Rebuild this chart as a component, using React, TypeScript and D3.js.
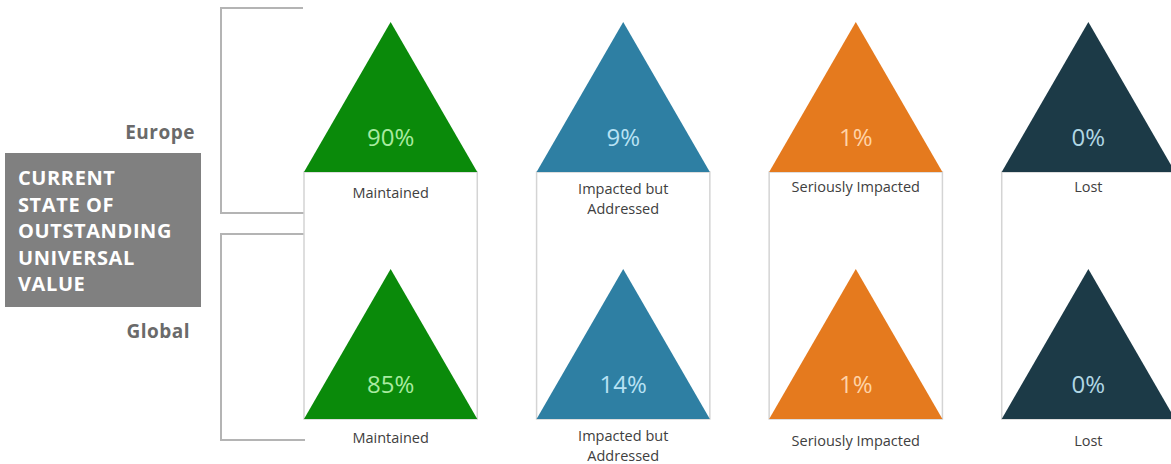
import React from 'react';
import * as d3 from 'd3';

const categories = ['Maintained', 'Impacted but Addressed', 'Seriously Impacted', 'Lost'];
const categoryLines = [['Maintained'], ['Impacted but', 'Addressed'], ['Seriously Impacted'], ['Lost']];
const regions = ['Europe', 'Global'];
const europeValues = [90, 9, 1, 0];
const globalValues = [85, 14, 1, 0];
const fillColors = ['#0a8a0a', '#2e7fa3', '#e57a1e', '#1c3a47'];
const textColors = ['#a8eaa0', '#b8e2f4', '#ffd3a6', '#b0d6e4'];
const titleLines = ['CURRENT', 'STATE OF', 'OUTSTANDING', 'UNIVERSAL', 'VALUE'];

const W = 1171;
const H = 464;
const FONT = '"Open Sans", "DejaVu Sans", sans-serif';

// label baselines, relative to triangle base: [europe, global] per category
const labelOffsets = [
  [26, 24],
  [22, 22],
  [20, 27],
  [20, 27],
];

const App: React.FC = () => {
  const x = d3.scaleBand<string>().domain(categories).range([304, 1175]).paddingInner(0.255);
  // y = baseline of each row's triangles
  const yBase = d3.scalePoint<string>().domain(regions).range([172, 419]);
  const triH = 150;
  const bw = x.bandwidth();
  const rows = [europeValues, globalValues];
  const fmt = (v: number) => `${v}%`;

  const triangle = (cx: number, base: number) =>
    d3.line()([[cx - bw / 2, base], [cx, base - triH], [cx + bw / 2, base]]) + 'Z';

  const eY = yBase('Europe')!;
  const gY = yBase('Global')!;

  return (
    <svg width={W} height={H} style={{ position: 'absolute', left: 0, top: 0, background: '#fff' }}>
      {/* brackets */}
      <path d={`M303,8 H221 V213 H304`} fill="none" stroke="#b4b4b4" strokeWidth={2} />
      <path d={`M304,234 H221 V440 H305`} fill="none" stroke="#b4b4b4" strokeWidth={2} />

      {/* title box */}
      <rect x={5} y={153} width={196} height={154} fill="#808080" />
      {titleLines.map((t, i) => (
        <text key={t} x={18} y={185 + i * 26.5} fill="#fff" fontFamily={FONT} fontWeight={700} fontSize={20} letterSpacing={0.6}>
          {t}
        </text>
      ))}
      <text x={195} y={139} textAnchor="end" fill="#6a6a6a" fontFamily={FONT} fontWeight={700} fontSize={19} letterSpacing={0.5}>
        Europe
      </text>
      <text x={190} y={338} textAnchor="end" fill="#6a6a6a" fontFamily={FONT} fontWeight={700} fontSize={19} letterSpacing={0.5}>
        Global
      </text>

      {/* column boxes */}
      {categories.map((c) => (
        <rect key={c} x={x(c)!} y={eY} width={bw} height={gY - eY} fill="none" stroke="#d4d4d4" strokeWidth={1.5} />
      ))}

      {regions.map((r, ri) =>
        categories.map((c, ci) => {
          const cx = x(c)! + bw / 2;
          const base = yBase(r)!;
          const lines = categoryLines[ci];
          return (
            <g key={r + c}>
              <path d={triangle(cx, base)} fill={fillColors[ci]} />
              <text x={cx} y={base - 26} textAnchor="middle" fill={textColors[ci]} fontFamily={FONT} fontSize={24}>
                {fmt(rows[ri][ci])}
              </text>
              {lines.map((l, li) => (
                <text
                  key={l}
                  x={cx}
                  y={base + labelOffsets[ci][ri] + li * 20}
                  textAnchor="middle"
                  fill="#404040"
                  fontFamily={FONT}
                  fontSize={14.5}
                >
                  {l}
                </text>
              ))}
            </g>
          );
        })
      )}
    </svg>
  );
};

export default App;
